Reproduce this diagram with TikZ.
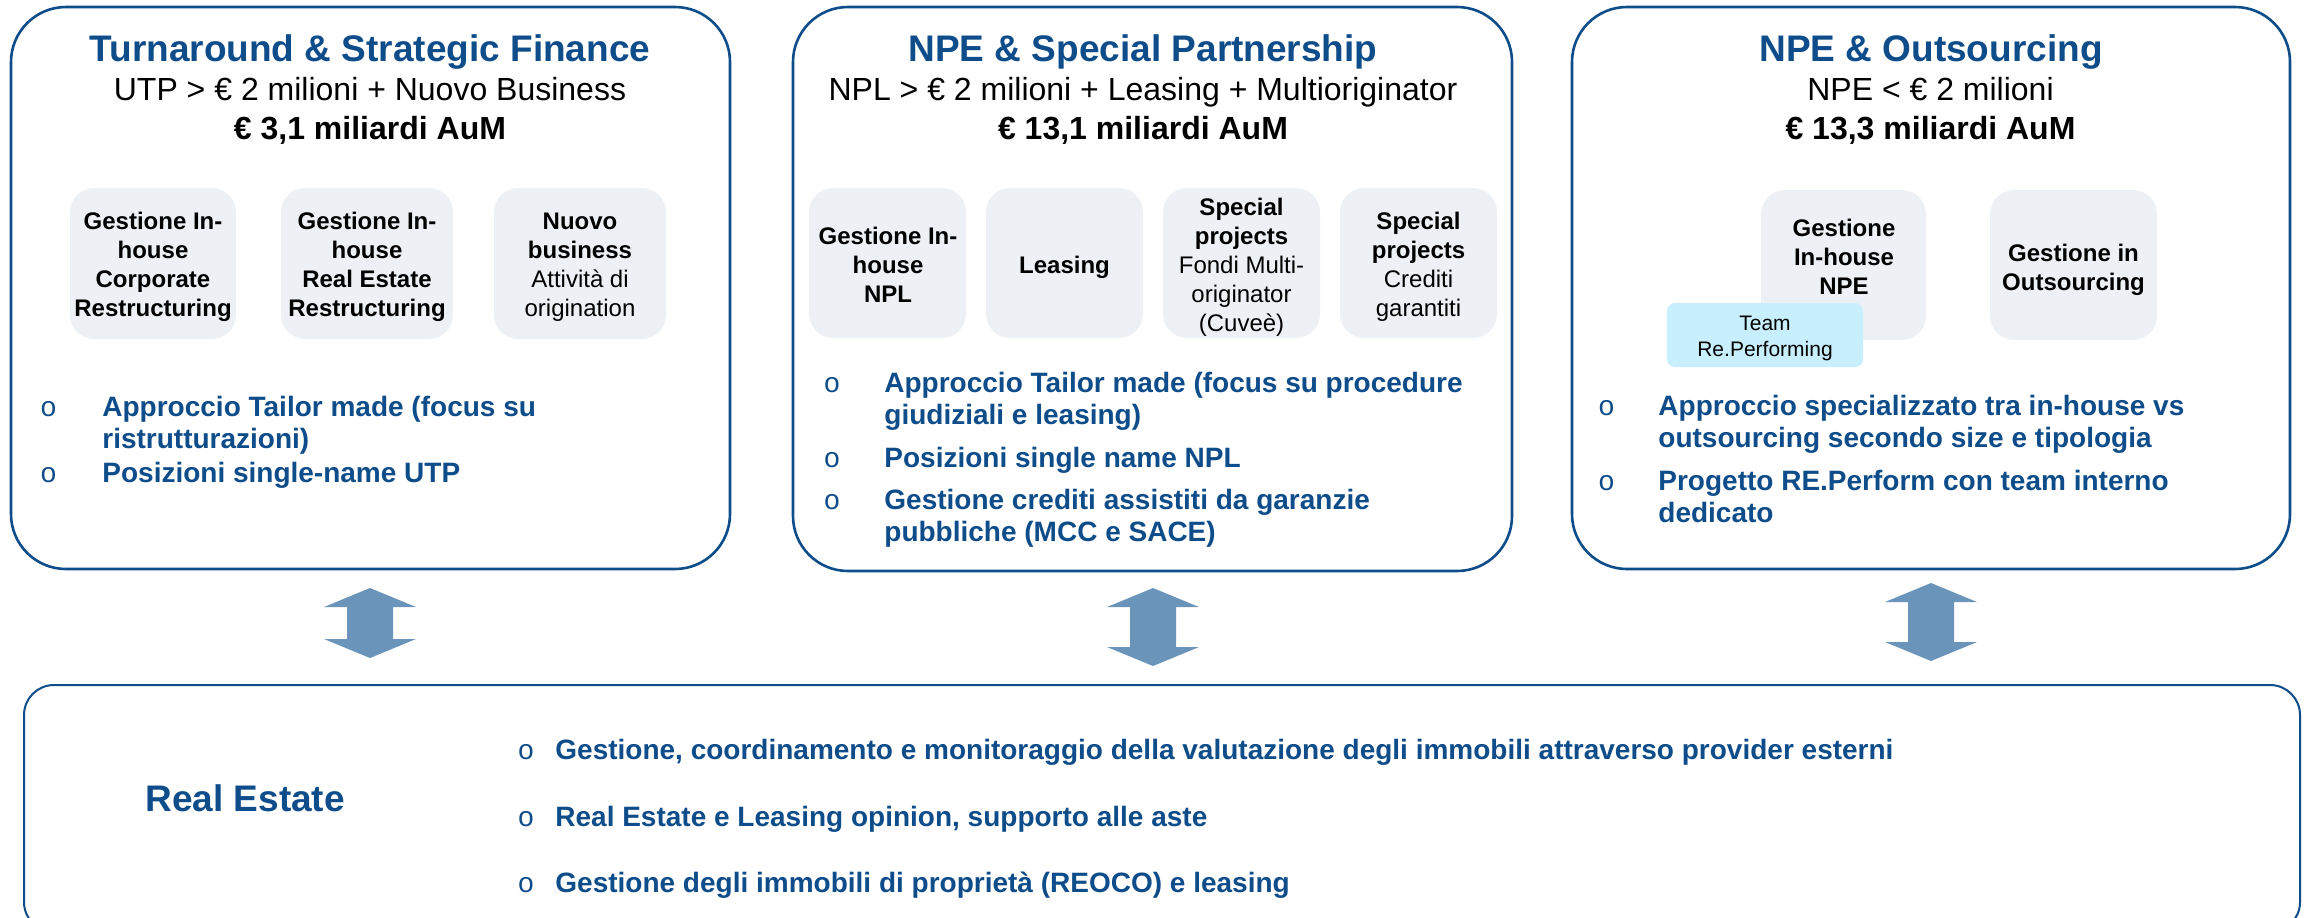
\documentclass[tikz,border=0pt]{standalone}
\usepackage{fontspec}
\setmainfont{Liberation Sans}
\newfontfamily\bulletfont{Liberation Mono}
\definecolor{dblue}{RGB}{14,76,138}
\definecolor{arrowc}{RGB}{106,148,186}
\definecolor{lgray}{RGB}{237,241,245}
\definecolor{lcyan}{RGB}{200,239,253}
\begin{document}
\begin{tikzpicture}[x=0.5pt,y=-0.5pt,
  bigbox/.style={draw=dblue, line width=1.3pt, rounded corners=27.5pt, inner sep=0pt},
  rebox/.style={draw=dblue, line width=1pt, rounded corners=15pt, inner sep=0pt},
  subbox/.style={fill=lgray, rounded corners=12pt, inner sep=0pt},
  teambox/.style={fill=lcyan, rounded corners=4pt, inner sep=0pt},
  titletext/.style={anchor=base, inner sep=0pt, text=dblue, font=\fontsize{18.5}{22}\selectfont\bfseries},
  subtext/.style={anchor=base, inner sep=0pt, font=\fontsize{16}{19}\selectfont},
  aumtext/.style={anchor=base, inner sep=0pt, font=\fontsize{16}{19}\selectfont\bfseries},
  btext/.style={anchor=base, inner sep=0pt, align=center, font=\fontsize{12}{14.5}\selectfont\bfseries},
  teamtext/.style={anchor=base, inner sep=0pt, align=center, font=\fontsize{10.5}{13}\selectfont},
  bullettext/.style={anchor=base west, inner sep=0pt, align=left, text=dblue, font=\fontsize{14}{16.25}\selectfont\bfseries},
  bulletmark/.style={anchor=base, inner sep=0pt, text=dblue, font=\bulletfont\fontsize{14}{16}\selectfont},
  retitle/.style={anchor=base west, inner sep=0pt, text=dblue, font=\fontsize{18.5}{22}\selectfont\bfseries},
  dblarrow/.style={fill=arrowc},
]
\useasboundingbox (0,0) rectangle (2305,917);
\clip (0,0) rectangle (2305,917);

% (multi-line nodes are placed by the baseline of their last line)

% ---------- big boxes ----------
\node[bigbox, minimum width=359.5pt, minimum height=281pt] (tsf) at (370.5,288) {};
\node[bigbox, minimum width=359.5pt, minimum height=282pt] (nsp) at (1152.5,289) {};
\node[bigbox, minimum width=359pt, minimum height=281pt] (nos) at (1931,288) {};
\node[rebox, minimum width=1138pt, minimum height=123.5pt] (re) at (1162,808.5) {};

% ---------- box 1 ----------
\node[titletext] (tsf-t) at (370,61) {Turnaround \& Strategic Finance};
\node[subtext] (tsf-s) at (370,100) {UTP > € 2 milioni + Nuovo Business};
\node[aumtext] (tsf-a) at (370,139) {€ 3,1 miliardi AuM};

\node[subbox, minimum width=83pt, minimum height=75.5pt] (tsf-b1) at (153,263.5) {};
\node[subbox, minimum width=86pt, minimum height=75.5pt] (tsf-b2) at (367,263.5) {};
\node[subbox, minimum width=86pt, minimum height=75.5pt] (tsf-b3) at (580,263.5) {};
\node[btext] (tsf-b1t) at (153,316) {Gestione In-\\house\\Corporate\\Restructuring};
\node[btext] (tsf-b2t) at (367,316) {Gestione In-\\house\\Real Estate\\Restructuring};
\node[btext] (tsf-b3t) at (580,316) {Nuovo\\business\\{\mdseries Attività di}\\{\mdseries origination}};

\node[bulletmark] (tsf-m1) at (48.5,416) {o};
\node[bullettext] (tsf-l1) at (102,448.5) {Approccio Tailor made (focus su\\ristrutturazioni)};
\node[bulletmark] (tsf-m2) at (48.5,482) {o};
\node[bullettext] (tsf-l2) at (102,482) {Posizioni single-name UTP};

% ---------- box 2 ----------
\node[titletext] (nsp-t) at (1143,61) {NPE \& Special Partnership};
\node[subtext] (nsp-s) at (1143,100) {NPL > € 2 milioni + Leasing + Multioriginator};
\node[aumtext] (nsp-a) at (1143,139) {€ 13,1 miliardi AuM};

\node[subbox, minimum width=78.5pt, minimum height=75pt] (nsp-b1) at (887.5,263) {};
\node[subbox, minimum width=78.5pt, minimum height=75pt] (nsp-b2) at (1064.5,263) {};
\node[subbox, minimum width=78.5pt, minimum height=75pt] (nsp-b3) at (1241.5,263) {};
\node[subbox, minimum width=78.5pt, minimum height=75pt] (nsp-b4) at (1418.5,263) {};
\node[btext] (nsp-b1t) at (888,302) {Gestione In-\\house\\NPL};
\node[btext] (nsp-b2t) at (1064.5,273) {Leasing};
\node[btext] (nsp-b3t) at (1241.5,331) {Special\\projects\\{\mdseries Fondi Multi-}\\{\mdseries originator}\\{\mdseries (Cuveè)}};
\node[btext] (nsp-b4t) at (1418.5,316) {Special\\projects\\{\mdseries Crediti}\\{\mdseries garantiti}};

\node[bulletmark] (nsp-m1) at (832,392) {o};
\node[bullettext] (nsp-l1) at (884,424.5) {Approccio Tailor made (focus su procedure\\giudiziali e leasing)};
\node[bulletmark] (nsp-m2) at (832,467) {o};
\node[bullettext] (nsp-l2) at (884,467) {Posizioni single name NPL};
\node[bulletmark] (nsp-m3) at (832,509) {o};
\node[bullettext] (nsp-l3) at (884,541.5) {Gestione crediti assistiti da garanzie\\pubbliche (MCC e SACE)};

% ---------- box 3 ----------
\node[titletext] (nos-t) at (1931,61) {NPE \& Outsourcing};
\node[subtext] (nos-s) at (1930.5,100) {NPE < € 2 milioni};
\node[aumtext] (nos-a) at (1930.5,139) {€ 13,3 miliardi AuM};

\node[subbox, minimum width=82.5pt, minimum height=75pt] (nos-b1) at (1843.5,265) {};
\node[subbox, minimum width=83.5pt, minimum height=75pt] (nos-b2) at (2073.5,265) {};
\node[btext] (nos-b1t) at (1844,294) {Gestione\\In-house\\NPE};
\node[btext] (nos-b2t) at (2073.5,290) {Gestione in\\Outsourcing};
\node[teambox, minimum width=98pt, minimum height=32pt] (team) at (1765,335) {};
\node[teamtext] (teamt) at (1765,356) {Team\\Re.Performing};

\node[bulletmark] (nos-m1) at (1606.5,415) {o};
\node[bullettext] (nos-l1) at (1658,447.5) {Approccio specializzato tra in-house vs\\outsourcing secondo size e tipologia};
\node[bulletmark] (nos-m2) at (1606.5,490) {o};
\node[bullettext] (nos-l2) at (1658,522.5) {Progetto RE.Perform con team interno\\dedicato};

% ---------- double arrows ----------
\foreach \cx/\ya/\yb in {370/588/658, 1153/588/666, 1931/583/661} {
  \fill[dblarrow] (\cx,\ya) -- ({\cx+46},{\ya+19}) -- ({\cx+23},{\ya+19}) -- ({\cx+23},{\yb-19}) -- ({\cx+46},{\yb-19}) -- (\cx,\yb) -- ({\cx-46},{\yb-19}) -- ({\cx-23},{\yb-19}) -- ({\cx-23},{\ya+19}) -- ({\cx-46},{\ya+19}) -- cycle;
}

% ---------- Real Estate ----------
\node[retitle] (re-t) at (145,811) {Real Estate};
\node[bulletmark] (re-m1) at (526,759) {o};
\node[bullettext] (re-l1) at (555,759) {Gestione, coordinamento e monitoraggio della valutazione degli immobili attraverso provider esterni};
\node[bulletmark] (re-m2) at (526,826) {o};
\node[bullettext] (re-l2) at (555,826) {Real Estate e Leasing opinion, supporto alle aste};
\node[bulletmark] (re-m3) at (526,892) {o};
\node[bullettext] (re-l3) at (555,892) {Gestione degli immobili di proprietà (REOCO) e leasing};
\end{tikzpicture}
\end{document}
